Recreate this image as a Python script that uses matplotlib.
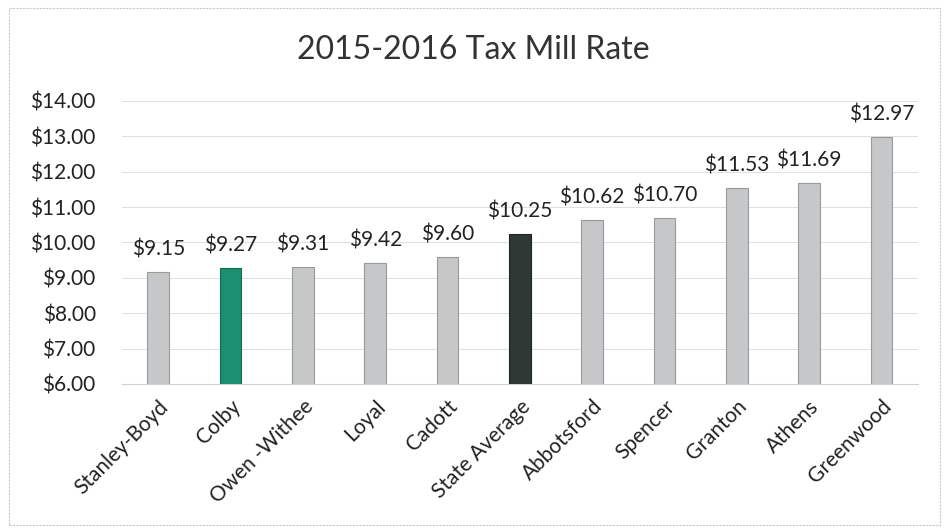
import matplotlib
matplotlib.use("Agg")
import matplotlib.pyplot as plt
from matplotlib.patches import Rectangle

categories = ["Stanley-Boyd", "Colby", "Owen -Withee", "Loyal", "Cadott", "State Average",
              "Abbotsford", "Spencer", "Granton", "Athens", "Greenwood"]
values = [9.15, 9.27, 9.31, 9.42, 9.60, 10.25, 10.62, 10.70, 11.53, 11.69, 12.97]
yticks = [6, 7, 8, 9, 10, 11, 12, 13, 14]

plt.rcParams['font.family'] = ['Lato', 'DejaVu Sans']

colors = []
edges = []
for c in categories:
    if c == "Colby":
        colors.append("#1c8f70"); edges.append("#146b53")
    elif c == "State Average":
        colors.append("#2e3834"); edges.append("#1e2522")
    else:
        colors.append("#c6c7c9"); edges.append("#9a9a9a")

fig = plt.figure(figsize=(9.46, 5.31), dpi=100)
fig.patches.append(Rectangle((0.009, 0.012), 0.985, 0.972, transform=fig.transFigure,
                             fill=False, edgecolor="#c8c8c8", linewidth=0.8, linestyle=(0, (2, 1))))
ax = fig.add_axes([0.129, 0.277, 0.841, 0.533])

x = list(range(len(categories)))
bars = ax.bar(x, values, width=0.3, color=colors, edgecolor=edges, linewidth=0.8, zorder=3)
ax.set_ylim(6, 14)
ax.set_xlim(-0.5, len(categories) - 0.5)
ax.set_yticks(yticks)
ax.set_yticklabels([f"${v:.2f}" for v in yticks], fontsize=15, color="#222222")
ax.set_xticks(x)
ax.set_xticklabels(categories, rotation=45, ha="right", rotation_mode="anchor", fontsize=15, color="#222222")
ax.tick_params(axis="y", length=0, pad=19)
ax.tick_params(axis="x", length=0, pad=9)
ax.grid(axis="y", color="#e0e0e0", linewidth=0.7, zorder=0)
for s in ["top", "right", "left"]:
    ax.spines[s].set_visible(False)
ax.spines["bottom"].set_color("#d0d0d0")
for xi, v in zip(x, values):
    ax.annotate(f"${v:.2f}", (xi, v), xytext=(0, 9), textcoords="offset points",
                ha="center", va="bottom", fontsize=15, color="#222222")
fig.text(0.5, 0.905, "2015-2016 Tax Mill Rate", ha="center", va="center", fontsize=23, color="#333333")
fig.savefig("out.png", dpi=100)
